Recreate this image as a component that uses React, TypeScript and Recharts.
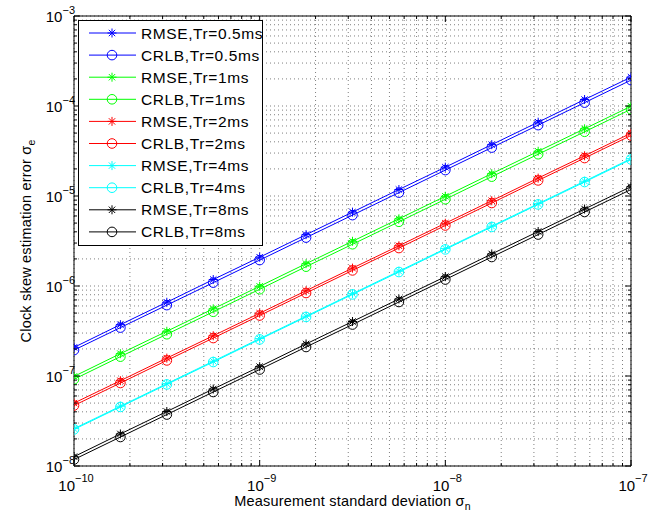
import React from 'react';
import { LineChart, Line, XAxis, YAxis, CartesianGrid, Legend, ReferenceLine } from 'recharts';

// Measurement standard deviation (x)
const sigmaN = [1e-10, 1.778e-10, 3.162e-10, 5.623e-10, 1e-9, 1.778e-9, 3.162e-9, 5.623e-9, 1e-8, 1.778e-8, 3.162e-8, 5.623e-8, 1e-7];

// Tr = 0.5 ms
const rmse05 = [2.08e-7, 3.72e-7, 6.6e-7, 1.18e-6, 2.09e-6, 3.72e-6, 6.62e-6, 1.18e-5, 2.09e-5, 3.72e-5, 6.61e-5, 1.18e-4, 2.09e-4];
const crlb05 = [1.94e-7, 3.45e-7, 6.13e-7, 1.09e-6, 1.94e-6, 3.45e-6, 6.13e-6, 1.09e-5, 1.94e-5, 3.45e-5, 6.13e-5, 1.09e-4, 1.94e-4];
// Tr = 1 ms
const rmse1 = [9.9e-8, 1.77e-7, 3.14e-7, 5.58e-7, 9.93e-7, 1.77e-6, 3.14e-6, 5.58e-6, 9.93e-6, 1.77e-5, 3.14e-5, 5.58e-5, 9.93e-5];
const crlb1 = [9.2e-8, 1.64e-7, 2.91e-7, 5.17e-7, 9.2e-7, 1.64e-6, 2.91e-6, 5.17e-6, 9.2e-6, 1.64e-5, 2.91e-5, 5.17e-5, 9.2e-5];
// Tr = 2 ms
const rmse2 = [5.0e-8, 8.87e-8, 1.58e-7, 2.8e-7, 4.98e-7, 8.86e-7, 1.58e-6, 2.8e-6, 4.98e-6, 8.86e-6, 1.58e-5, 2.8e-5, 4.98e-5];
const crlb2 = [4.7e-8, 8.36e-8, 1.49e-7, 2.64e-7, 4.7e-7, 8.36e-7, 1.49e-6, 2.64e-6, 4.7e-6, 8.36e-6, 1.49e-5, 2.64e-5, 4.7e-5];
// Tr = 4 ms
const rmse4 = [2.6e-8, 4.62e-8, 8.22e-8, 1.46e-7, 2.6e-7, 4.62e-7, 8.22e-7, 1.46e-6, 2.6e-6, 4.62e-6, 8.22e-6, 1.46e-5, 2.6e-5];
const crlb4 = [2.55e-8, 4.53e-8, 8.06e-8, 1.43e-7, 2.55e-7, 4.53e-7, 8.06e-7, 1.43e-6, 2.55e-6, 4.53e-6, 8.06e-6, 1.43e-5, 2.55e-5];
// Tr = 8 ms
const rmse8 = [1.27e-8, 2.27e-8, 4.03e-8, 7.17e-8, 1.27e-7, 2.27e-7, 4.03e-7, 7.17e-7, 1.27e-6, 2.27e-6, 4.03e-6, 7.17e-6, 1.27e-5];
const crlb8 = [1.18e-8, 2.1e-8, 3.73e-8, 6.64e-8, 1.18e-7, 2.1e-7, 3.73e-7, 6.64e-7, 1.18e-6, 2.1e-6, 3.73e-6, 6.64e-6, 1.18e-5];

// Tick definitions
const mantissas = [1, 2, 3, 4, 5, 6, 7, 8, 9];
const xDecades = [-10, -9, -8];
const xLastTick = 1e-7;
const yDecades = [-8, -7, -6, -5, -4];
const yLastTick = 1e-3;

const xTicks = [...xDecades.flatMap((d) => mantissas.map((m) => m * Math.pow(10, d))), xLastTick];
const yTicks = [...yDecades.flatMap((d) => mantissas.map((m) => m * Math.pow(10, d))), yLastTick];

const seriesDefs = [
  { key: 'rmse05', name: 'RMSE,Tr=0.5ms', color: '#0000ff', marker: 'star', values: rmse05 },
  { key: 'crlb05', name: 'CRLB,Tr=0.5ms', color: '#0000ff', marker: 'circle', values: crlb05 },
  { key: 'rmse1', name: 'RMSE,Tr=1ms', color: '#00ff00', marker: 'star', values: rmse1 },
  { key: 'crlb1', name: 'CRLB,Tr=1ms', color: '#00ff00', marker: 'circle', values: crlb1 },
  { key: 'rmse2', name: 'RMSE,Tr=2ms', color: '#ff0000', marker: 'star', values: rmse2 },
  { key: 'crlb2', name: 'CRLB,Tr=2ms', color: '#ff0000', marker: 'circle', values: crlb2 },
  { key: 'rmse4', name: 'RMSE,Tr=4ms', color: '#00ffff', marker: 'star', values: rmse4 },
  { key: 'crlb4', name: 'CRLB,Tr=4ms', color: '#00ffff', marker: 'circle', values: crlb4 },
  { key: 'rmse8', name: 'RMSE,Tr=8ms', color: '#000000', marker: 'star', values: rmse8 },
  { key: 'crlb8', name: 'CRLB,Tr=8ms', color: '#000000', marker: 'circle', values: crlb8 },
];

const data = sigmaN.map((x, i) => {
  const row: any = { x };
  seriesDefs.forEach((s) => {
    row[s.key] = s.values[i];
  });
  return row;
});

const FONT = '"Liberation Sans", Arial, Helvetica, sans-serif';
const W = 660;
const H = 518;
const M = { top: 16, right: 29, bottom: 0, left: 0 };
const PLOT_LEFT = 74;
const PLOT_TOP = 16;
const PLOT_RIGHT = W - M.right;

const isMajor = (v: number) => {
  const e = Math.log10(v);
  return Math.abs(e - Math.round(e)) < 1e-6;
};

const starShape = (cx: number, cy: number, color: string, k: string) => (
  <g key={k}>
    <line x1={cx} y1={cy - 4.5} x2={cx} y2={cy + 4.5} stroke={color} strokeWidth={1} />
    <line x1={cx - 4.5} y1={cy} x2={cx + 4.5} y2={cy} stroke={color} strokeWidth={1} />
    <line x1={cx - 3.2} y1={cy - 3.2} x2={cx + 3.2} y2={cy + 3.2} stroke={color} strokeWidth={1} />
    <line x1={cx - 3.2} y1={cy + 3.2} x2={cx + 3.2} y2={cy - 3.2} stroke={color} strokeWidth={1} />
  </g>
);

const circleShape = (cx: number, cy: number, color: string, k: string) => (
  <circle key={k} cx={cx} cy={cy} r={4.8} fill="none" stroke={color} strokeWidth={1} />
);

const makeDot = (marker: string, color: string, key: string) => (props: any) => {
  const { cx, cy, index } = props;
  const k = `${key}-${index}`;
  if (cx == null || cy == null) return <g key={k} />;
  return marker === 'star' ? starShape(cx, cy, color, k) : circleShape(cx, cy, color, k);
};

const XTick = (props: any) => {
  const { x, y, payload } = props;
  const v = payload.value;
  const major = isMajor(v);
  const len = major ? 6 : 3;
  const e = Math.round(Math.log10(v));
  return (
    <g>
      <line x1={x} y1={y} x2={x} y2={y - len} stroke="#000" strokeWidth={1} />
      <line x1={x} y1={PLOT_TOP} x2={x} y2={PLOT_TOP + len} stroke="#000" strokeWidth={1} />
      {major && (
        <text x={x + 2} y={y + 25} textAnchor="middle" fontSize={15} fontFamily={FONT} fill="#000">
          10
          <tspan dy={-9} fontSize={11}>{'\u2212' + Math.abs(e)}</tspan>
        </text>
      )}
    </g>
  );
};

const YTick = (props: any) => {
  const { x, y, payload } = props;
  const v = payload.value;
  const major = isMajor(v);
  const len = major ? 6 : 3;
  const e = Math.round(Math.log10(v));
  return (
    <g>
      <line x1={PLOT_LEFT} y1={y} x2={PLOT_LEFT + len} y2={y} stroke="#000" strokeWidth={1} />
      <line x1={PLOT_RIGHT} y1={y} x2={PLOT_RIGHT - len} y2={y} stroke="#000" strokeWidth={1} />
      {major && (
        <text x={x + 1} y={y + 5.5} textAnchor="end" fontSize={15} fontFamily={FONT} fill="#000">
          10
          <tspan dy={-8} fontSize={11}>{'\u2212' + Math.abs(e)}</tspan>
        </text>
      )}
    </g>
  );
};

const LegendBox = (props: any) => {
  const payload = props.payload || [];
  const ordered = seriesDefs
    .map((s) => payload.find((p: any) => p.dataKey === s.key) ? s : null)
    .filter(Boolean) as typeof seriesDefs;
  const rowH = 22.1;
  return (
    <svg width={185} height={226} style={{ display: 'block' }}>
      <rect x={0.5} y={0.5} width={184} height={225} fill="#fff" stroke="#000" strokeWidth={1} />
      {ordered.map((s, i) => {
        const cy = 13 + i * rowH;
        return (
          <g key={s.key}>
            <line x1={11} y1={cy} x2={58} y2={cy} stroke={s.color} strokeWidth={1} />
            {s.marker === 'star' ? starShape(34, cy, s.color, s.key + 'm') : circleShape(34, cy, s.color, s.key + 'm')}
            <text x={63} y={cy + 5.5} fontSize={15.5} letterSpacing={0.6} fontFamily={FONT} fill="#000">{s.name}</text>
          </g>
        );
      })}
    </svg>
  );
};

const XTitle = () => (
  <text x={(PLOT_LEFT + PLOT_RIGHT) / 2} y={506} textAnchor="middle" fontSize={14.5} letterSpacing={0.2} fontFamily={FONT} fill="#000">
    Measurement standard deviation σ
    <tspan dy={4} fontSize={10.5}>n</tspan>
  </text>
);

const YTitle = () => (
  <text
    x={31}
    y={241}
    textAnchor="middle"
    fontSize={14.5}
    letterSpacing={0.2}
    fontFamily={FONT}
    fill="#000"
    transform="rotate(-90 31 241)"
  >
    Clock skew estimation error σ
    <tspan dy={4} fontSize={10.5}>e</tspan>
  </text>
);

export default function App() {
  return (
    <div style={{ position: 'absolute', left: 0, top: 0, width: W, height: H, background: '#fff' }}>
      <LineChart width={W} height={H} data={data} margin={M}>
        <CartesianGrid stroke="#000" strokeOpacity={0.5} strokeDasharray="1 3" />
        <XAxis
          dataKey="x"
          type="number"
          scale="log"
          domain={[1e-10, 1e-7]}
          allowDataOverflow
          ticks={xTicks}
          interval={0}
          tickSize={0}
          tickMargin={0}
          height={52}
          tick={<XTick />}
          axisLine={{ stroke: '#000' }}
          tickLine={false}
          label={<XTitle />}
        />
        <YAxis
          type="number"
          scale="log"
          domain={[1e-8, 1e-3]}
          allowDataOverflow
          ticks={yTicks}
          interval={0}
          tickSize={0}
          tickMargin={0}
          width={74}
          tick={<YTick />}
          axisLine={{ stroke: '#000' }}
          tickLine={false}
          label={<YTitle />}
        />
        <ReferenceLine x={1e-7} stroke="#000" strokeWidth={1} />
        <ReferenceLine y={1e-3} stroke="#000" strokeWidth={1} />
        {seriesDefs.map((s) => (
          <Line
            key={s.key}
            dataKey={s.key}
            name={s.name}
            stroke={s.color}
            strokeWidth={1}
            dot={makeDot(s.marker, s.color, s.key)}
            activeDot={false}
            isAnimationActive={false}
            type="linear"
          />
        ))}
        <Legend
          layout="vertical"
          align="center"
          verticalAlign="middle"
          content={<LegendBox />}
          wrapperStyle={{ position: 'absolute', left: 78, top: 20, width: 185, height: 226 }}
        />
      </LineChart>
    </div>
  );
}
